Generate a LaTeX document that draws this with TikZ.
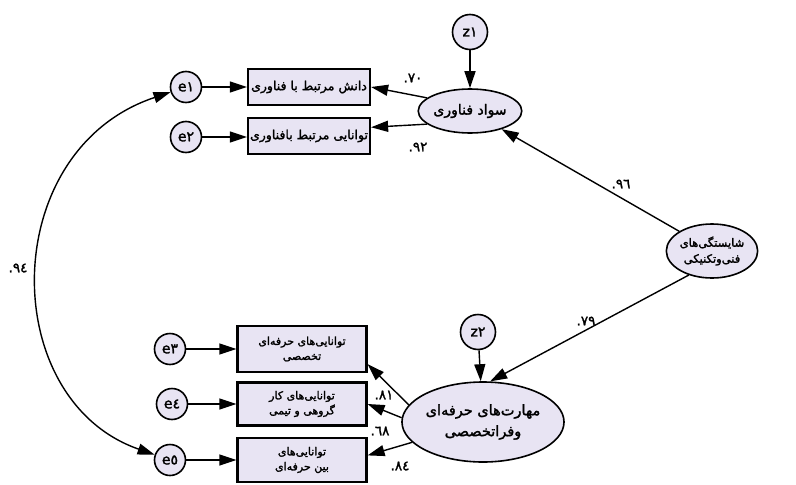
\documentclass[tikz,border=0pt]{standalone}
\usepackage{fontspec}
\TeXXeTstate=1
\newfontfamily\fa[Script=Arabic,FakeBold=1.8]{DejaVu Sans}
\newfontfamily\lat[FakeBold=1.4]{DejaVu Sans}
\usetikzlibrary{arrows.meta,shapes.geometric}
\definecolor{lav}{RGB}{232,228,243}
\newcommand\cf[1]{\lat.\hbox{\fa #1}}
\begin{document}
\begin{tikzpicture}[x=1pt,y=-1pt,
  font=\fa\fontsize{12.5}{16}\selectfont,
  err/.style={circle,draw,line width=1.6pt,fill=lav,minimum size=31pt,inner sep=0pt,font=\fa\fontsize{14}{14}\selectfont},
  zer/.style={err,minimum size=35pt},
  obs/.style={rectangle,draw,line width=2.2pt,fill=lav,minimum width=122pt,minimum height=36pt,inner sep=1pt,align=center},
  obs2/.style={obs,minimum width=129pt,font=\fa\fontsize{11}{15}\selectfont},
  lat/.style={ellipse,draw,line width=1.6pt,fill=lav,inner sep=0pt,align=center},
  tip/.tip={Triangle[length=17pt,width=11pt]},
  arr/.style={-tip,line width=1.4pt},
  darr/.style={tip-tip,line width=1.4pt},
  coef/.style={inner sep=0pt,font=\fa\fontsize{13.5}{13.5}\selectfont}]
\useasboundingbox (0,0) rectangle (796,485);
\fill[white] (0,0) rectangle (796,485);

% upper part
\node[err] (e1) at (186,87) {e١};
\node[err] (e2) at (186,137) {e٢};
\node[obs] (b1) at (309,87) {\beginR دانش مرتبط با فناوری\endR};
\node[obs] (b2) at (309,136) {\beginR توانایی مرتبط بافناوری\endR};
\node[lat,minimum width=94pt,minimum height=44pt,font=\fa\fontsize{14}{16}\selectfont] (l1) at (470,111) {\beginR سواد فناوری\endR};
\node[zer] (z1) at (470,32) {z١};

% right latent
\node[lat,minimum width=90pt,minimum height=54pt,font=\fa\fontsize{11.5}{16}\selectfont] (l0) at (712,251)
  {\beginR شایستگی‌های\endR\\ \beginR فنی‌وتکنیکی\endR};

% lower part
\node[lat,minimum width=150pt,minimum height=80pt,font=\fa\fontsize{14.5}{21}\selectfont] (l2) at (483,422)
  {\beginR مهارت‌های حرفه‌ای\endR\\ \beginR وفراتخصصی\endR};
\node[zer] (z2) at (478,332) {z٢};
\node[obs2,minimum height=46pt] (b3) at (302,349)
  {\beginR توانایی‌های حرفه‌ای\endR\\ \beginR تخصصی\endR};
\node[obs2,minimum height=43pt] (b4) at (302,404)
  {\beginR توانایی‌های کار\endR\\ \beginR گروهی و تیمی\endR};
\node[obs2,minimum height=44pt] (b5) at (302,460)
  {\beginR توانایی‌های\endR\\ \beginR بین حرفه‌ای\endR};
\node[err] (e3) at (170,349) {e٣};
\node[err] (e4) at (172,404) {e٤};
\node[err] (e5) at (170,460) {e٥};

% connectors
\draw[arr] (e1) -- (b1);
\draw[arr] (e2) -- (e2 -| b2.west);
\draw[arr] (e3) -- (b3);
\draw[arr] (e4) -- (e4 -| b4.west);
\draw[arr] (e5) -- (b5);
\draw[arr] (z1) -- (l1);
\draw[arr] (z2) -- (l2);
\draw[arr] (l1.163) -- (b1.east);
\draw[arr] (l1.197) -- (b2.8);
\draw[arr] (l0.149) -- (l1);
\draw[arr] (l0.226) -- (l2.80);
\draw[arr] (l2.167) -- (b3.-13);
\draw[arr] (l2.177) -- (b4.east);
\draw[arr] (l2.196) -- (b5.4);
\draw[darr] (e1) .. controls (-3,150) and (-3,400) .. (e5);

% coefficients
\node[coef] (c1) at (413,78) {\cf{٧٠}};
\node[coef] (c2) at (418,147) {\cf{٩٢}};
\node[coef] (c3) at (621,184) {\cf{٩٦}};
\node[coef] (c4) at (586,321) {\cf{٧٩}};
\node[coef] (c5) at (18,268) {\cf{٩٤}};
\node[coef] (c6) at (384,395) {\cf{٨١}};
\node[coef] (c7) at (380,431) {\cf{٦٨}};
\node[coef] (c8) at (400,466) {\cf{٨٤}};
\end{tikzpicture}
\end{document}
